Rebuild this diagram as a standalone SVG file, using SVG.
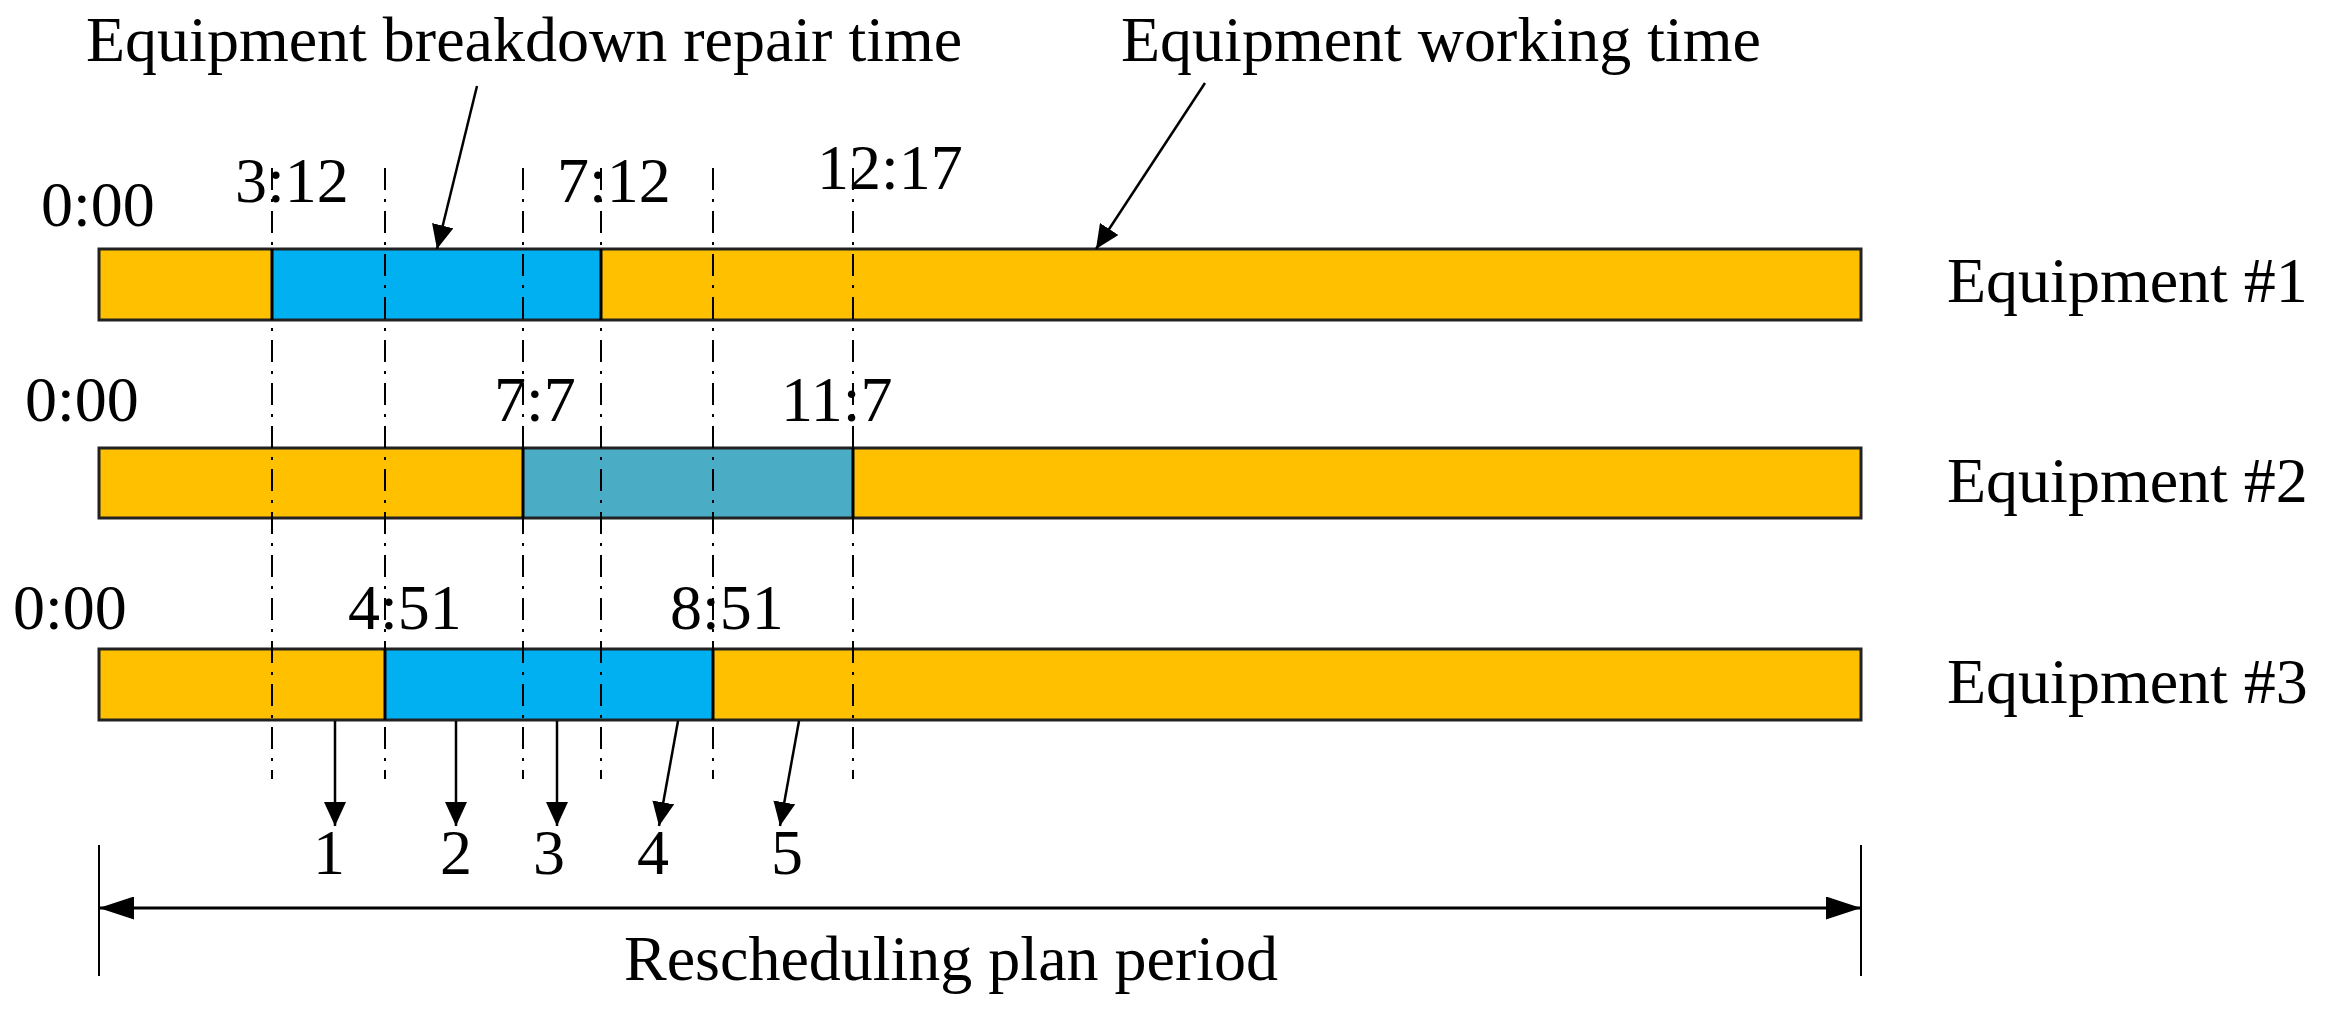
<svg xmlns="http://www.w3.org/2000/svg" width="2325" height="1017" viewBox="0 0 2325 1017">
<defs>
<style>
text{font-family:"Liberation Serif","Times New Roman",serif;font-size:64px;fill:#000}
.work{fill:#FFC000}
.rep{fill:#00B0F0}
.rep2{fill:#4BACC6}
.frame{fill:none;stroke:#222;stroke-width:3}
.div{stroke:#000;stroke-width:3}
.guide{stroke:#000;stroke-width:2;stroke-dasharray:22 9 3 9;fill:none}
.arr{stroke:#000;stroke-width:2.5;fill:none;marker-end:url(#ah)}
.dim{stroke:#000;stroke-width:3;fill:none}
.tick{stroke:#000;stroke-width:2;fill:none}
</style>
<marker id="ah" viewBox="0 0 24 22" refX="24" refY="11" markerWidth="24" markerHeight="22" markerUnits="userSpaceOnUse" orient="auto">
<path d="M0,0 L24,11 L0,22 Z" fill="#000"/>
</marker>
<marker id="dh" viewBox="0 0 35 23" refX="35" refY="11.5" markerWidth="35" markerHeight="23" markerUnits="userSpaceOnUse" orient="auto">
<path d="M0,0 L35,11.5 L0,23 Z" fill="#000"/>
</marker>
</defs>
<rect width="2325" height="1017" fill="#fff"/>

<g id="equipment1">
<rect class="work" x="99" y="249" width="1762" height="71"/>
<rect class="rep" x="272" y="249" width="329" height="71"/>
<rect class="frame" x="99" y="249" width="1762" height="71"/>
<line class="div" x1="272" y1="249" x2="272" y2="320"/>
<line class="div" x1="601" y1="249" x2="601" y2="320"/>
<text x="1947" y="302">Equipment #1</text>
<text x="41" y="226">0:00</text>
<text x="235" y="202">3:12</text>
<text x="557" y="202">7:12</text>
<text x="817" y="189">12:17</text>
</g>

<g id="equipment2">
<rect class="work" x="99" y="448" width="1762" height="70"/>
<rect class="rep2" x="523" y="448" width="330" height="70"/>
<rect class="frame" x="99" y="448" width="1762" height="70"/>
<line class="div" x1="523" y1="448" x2="523" y2="518"/>
<line class="div" x1="853" y1="448" x2="853" y2="518"/>
<text x="1947" y="502">Equipment #2</text>
<text x="25" y="421">0:00</text>
<text x="494" y="421">7:7</text>
<text x="781" y="421">11:7</text>
</g>

<g id="equipment3">
<rect class="work" x="99" y="649" width="1762" height="71"/>
<rect class="rep" x="385" y="649" width="328" height="71"/>
<rect class="frame" x="99" y="649" width="1762" height="71"/>
<line class="div" x1="385" y1="649" x2="385" y2="720"/>
<line class="div" x1="713" y1="649" x2="713" y2="720"/>
<text x="1947" y="703">Equipment #3</text>
<text x="13" y="629">0:00</text>
<text x="348" y="629">4:51</text>
<text x="670" y="629">8:51</text>
</g>

<g id="guides">
<line class="guide" x1="272" y1="168" x2="272" y2="779"/>
<line class="guide" x1="385" y1="168" x2="385" y2="779"/>
<line class="guide" x1="523" y1="168" x2="523" y2="779"/>
<line class="guide" x1="601" y1="168" x2="601" y2="779"/>
<line class="guide" x1="713" y1="168" x2="713" y2="779"/>
<line class="guide" x1="853" y1="168" x2="853" y2="779"/>
</g>

<g id="legend">
<text x="86" y="61">Equipment breakdown repair time</text>
<text x="1121" y="61">Equipment working time</text>
</g>

<g id="stage-labels">
<text x="329" y="874" text-anchor="middle">1</text>
<text x="456" y="874" text-anchor="middle">2</text>
<text x="549" y="874" text-anchor="middle">3</text>
<text x="653" y="874" text-anchor="middle">4</text>
<text x="787" y="874" text-anchor="middle">5</text>
<text x="951" y="980" text-anchor="middle">Rescheduling plan period</text>
</g>

<g id="connectors">
<line class="arr" x1="477" y1="86" x2="437" y2="249"/>
<line class="arr" x1="1205" y1="83" x2="1096" y2="249"/>
<line class="arr" x1="335" y1="721" x2="335" y2="826"/>
<line class="arr" x1="456" y1="721" x2="456" y2="826"/>
<line class="arr" x1="557" y1="721" x2="557" y2="826"/>
<line class="arr" x1="678" y1="721" x2="659" y2="826"/>
<line class="arr" x1="799" y1="721" x2="780" y2="826"/>
<line class="tick" x1="99" y1="845" x2="99" y2="976"/>
<line class="tick" x1="1861" y1="845" x2="1861" y2="976"/>
<line class="dim" x1="480" y1="908" x2="99" y2="908" marker-end="url(#dh)"/>
<line class="dim" x1="480" y1="908" x2="1861" y2="908" marker-end="url(#dh)"/>
</g>
</svg>
